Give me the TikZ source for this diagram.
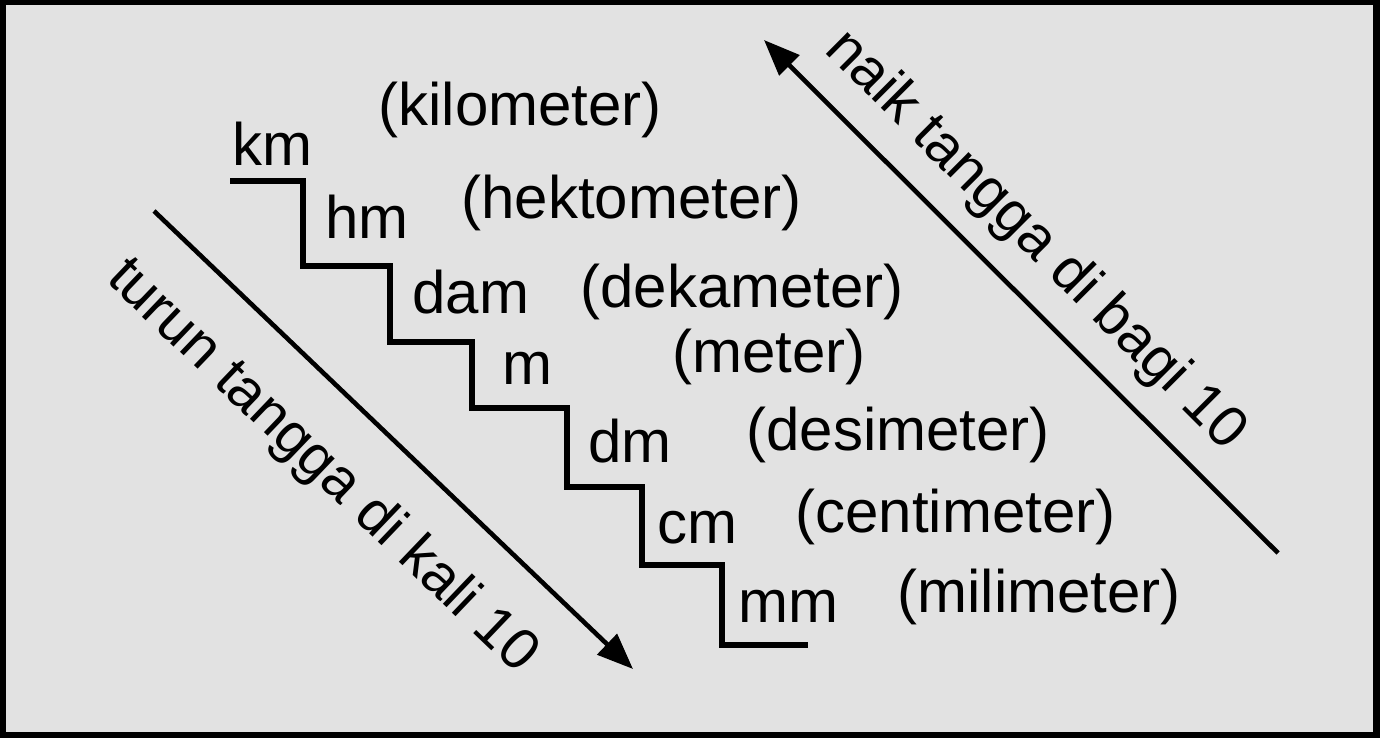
\documentclass[tikz,border=0pt]{standalone}
\usepackage{fontspec}
\setmainfont{Liberation Sans}
\usetikzlibrary{arrows.meta,positioning}
\definecolor{paper}{HTML}{E2E2E2}

\begin{document}
\begin{tikzpicture}[x=0.5pt,y=-0.5pt,
  lbl/.style={anchor=base west,inner sep=0pt,font=\fontsize{30}{36}\selectfont},
  note/.style={sloped,inner sep=0pt,font=\fontsize{29}{35}\selectfont},
  stair/.style={line width=2.8pt,line join=miter},
  slope/.style={line width=2.3pt}]
  \fill[black] (0,0) rectangle (1380,738);
  \fill[paper] (6,5) rectangle (1373,732);
  \useasboundingbox (0,0) rectangle (1380,738);
  % the stairs, one step per unit
  \draw[stair] (230,181) -| (303,266) -| (390,342) -| (472,408) -| (567,487)
    -| (642,565) -| (722,645) -- (808,645);
  \node[lbl] (km)  at (232,165) {km};
  \node[lbl] (hm)  at (325,238) {hm};
  \node[lbl] (dam) at (412,313) {dam};
  \node[lbl] (m)   at (502,384) {m};
  \node[lbl] (dm)  at (588,462) {dm};
  \node[lbl] (cm)  at (657,543) {cm};
  \node[lbl] (mm)  at (738,622) {mm};
  % full names
  \node[lbl] (kmname)  at (378,126) {(kilometer)};
  \node[lbl] (hmname)  at (461,218) {(hektometer)};
  \node[lbl] (damname) at (580,307) {(dekameter)};
  \node[lbl] (mname)   at (672,372) {(meter)};
  \node[lbl] (dmname)  at (746,450) {(desimeter)};
  \node[lbl] (cmname)  at (795,532) {(centimeter)};
  \node[lbl] (mmname)  at (897,612) {(milimeter)};
  % going down: times 10, going up: divide by 10
  \coordinate (downtop) at (154,211);
  \coordinate (downend) at (633,669);
  \coordinate (uptip) at (764,40);
  \coordinate (upfoot) at (1278,553);
  \draw[slope,-{Triangle[length=18pt,width=14pt]}] (downtop) -- (downend)
    node[note,below=20pt,pos=0.45] (downtxt) {turun tangga di kali 10};
  \draw[slope,{Triangle[length=18pt,width=14pt]}-] (uptip) -- (upfoot)
    node[note,above=10pt,pos=0.46] (uptxt) {naik tangga di bagi 10};
\end{tikzpicture}
\end{document}
